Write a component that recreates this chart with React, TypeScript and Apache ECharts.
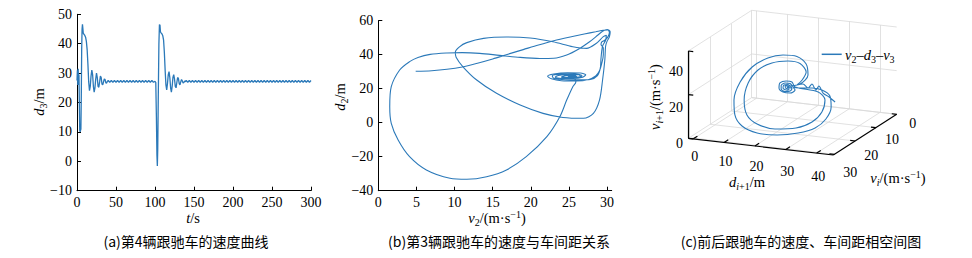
import React, { useEffect, useRef } from "react";
import * as echarts from "echarts";

const BLUE = "#2b79b9";
const SERIF = "serif";
const CJK = "Noto Sans CJK SC";

// ---------- Panel (a): d3 vs t ----------
const timeA = [0, 0.5, 1, 1.5, 2, 2.5, 3, 3.5, 4, 4.5, 5, 5.5, 6, 6.5, 7, 7.5, 8, 9, 10, 11, 12, 13, 14, 15, 16, 17, 18, 19, 20, 21, 22, 23, 24, 25, 26, 27, 28, 29, 30, 31, 32, 33, 34, 35, 36, 37, 38, 39,
  40, 42, 44, 46, 48, 50, 52, 54, 56, 58, 60, 62, 64, 66, 68, 70, 72, 74, 76, 78, 80, 82, 84, 86, 88, 90, 92, 94, 96, 98,
  100, 101, 101.8, 102.5, 103, 103.5, 104.2, 105, 105.7, 106.4, 107, 108, 109, 110, 111, 112, 113, 114, 115, 116, 117, 118, 119, 120, 121, 122, 123, 124, 125, 126, 127, 128, 129, 130, 131, 132, 133, 134, 135, 136, 137, 138, 139,
  140, 142, 144, 146, 148, 150, 152, 154, 156, 158, 160, 162, 164, 166, 168, 170, 172, 174, 176, 178, 180, 182, 184, 186, 188, 190, 192, 194, 196, 198, 200, 202, 204, 206, 208, 210, 212, 214, 216, 218, 220, 222, 224, 226, 228, 230, 232, 234, 236, 238, 240, 242, 244, 246, 248, 250, 252, 254, 256, 258, 260, 262, 264, 266, 268, 270, 272, 274, 276, 278, 280, 282, 284, 286, 288, 290, 292, 294, 296, 298, 300];
const d3A = [27.5, 31, 26, 31.5, 26.5, 29.5, 20, 10.5, 10, 10, 11, 22, 38, 45, 46.6, 45.2, 43.6, 43.2, 42.8, 42.2, 40.8, 38, 33, 27, 24, 25.5, 29, 31, 29.5, 25.5, 23.5, 25, 28, 30, 28.5, 25.5, 25.2, 27, 29, 28.5, 26.3, 26, 27, 28, 27.8, 26.7, 26.6, 27.2,
  27.5, 26.9, 27.5, 26.9, 27.5, 26.9, 27.5, 26.9, 27.5, 26.9, 27.5, 26.9, 27.5, 26.9, 27.5, 26.9, 27.5, 26.9, 27.5, 26.9, 27.5, 26.9, 27.5, 26.9, 27.5, 26.9, 27.5, 26.9, 27.5, 26.9,
  27.2, 26.8, 15, 2, -1.6, 4, 22, 40, 46.5, 46.3, 44, 43.6, 43.3, 42.7, 41.2, 37, 31, 26, 24.3, 26.5, 29.5, 30.5, 28.5, 25, 23.5, 25.5, 28.5, 29.5, 28, 25.5, 25, 26.8, 28.5, 28.2, 26.5, 26, 27, 27.8, 27.4, 26.6, 26.8, 27.3, 27.1,
  27.5, 26.9, 27.5, 26.9, 27.5, 26.9, 27.5, 26.9, 27.5, 26.9, 27.5, 26.9, 27.5, 26.9, 27.5, 26.9, 27.5, 26.9, 27.5, 26.9, 27.5, 26.9, 27.5, 26.9, 27.5, 26.9, 27.5, 26.9, 27.5, 26.9, 27.5, 26.9, 27.5, 26.9, 27.5, 26.9, 27.5, 26.9, 27.5, 26.9,
  27.5, 26.9, 27.5, 26.9, 27.5, 26.9, 27.5, 26.9, 27.5, 26.9, 27.5, 26.9, 27.5, 26.9, 27.5, 26.9, 27.5, 26.9, 27.5, 26.9, 27.5, 26.9, 27.5, 26.9, 27.5, 26.9, 27.5, 26.9, 27.5, 26.9, 27.5, 26.9, 27.5, 26.9, 27.5, 26.9, 27.5, 26.9, 27.5, 26.9, 27.5];
const xTicksA = [0, 50, 100, 150, 200, 250, 300];
const yTicksA = [-10, 0, 10, 20, 30, 40, 50];

// ---------- Panel (b): d2 vs v2 ----------
const v2B = [4.9, 7, 9, 11, 13, 15, 17, 19, 21, 23, 25, 27, 28.5, 29.5, 30.1, 30.3, 30.1, 29.7, 29.3, 29.2, 29.5, 29.5, 29.3, 29, 28.5, 27.5, 26, 24, 22.7, 22.2, 23, 24.8, 26.5, 27.2, 26.8, 25.5, 24, 23.2, 23.6, 25, 26.3, 26.5, 25.8, 24.6, 24.2, 24.8, 25.8, 26, 25.4, 24.9, 25.2, 25.6, 25.3, 25.8, 25.9, 25.5, 24.7, 23.8, 22.1, 19.4, 16.8, 14.2, 11.6, 9.4, 6.3, 4.1, 2.6, 1.7, 1.5, 1.7, 2.8, 4.1, 5.2, 6.8, 9, 11, 13.3, 15.9, 18.6, 21.2, 23, 24.7, 26.4, 27.7, 28.8, 29.4, 30, 30.4, 30.3, 30, 29.8, 29.7, 29.4, 29, 28.2, 26.9, 24.2, 21.6, 18.6, 15.5, 12.9, 11.1, 10.2, 10.1, 10.6, 11.6, 13.8, 16.8, 19.9, 22.9, 25.5, 27.3, 28.6, 29.5, 29.9, 29.8, 29.4, 29.2, 29.1, 28.7, 27.8, 26.5, 24.5, 23, 22.8, 24, 25.8, 26.7, 26.3, 25, 24, 24.5, 25.6, 25.8, 25.3];
const d2B = [30.3, 30.6, 31.4, 32.8, 35, 37.5, 40.3, 43, 45.7, 48.2, 50.3, 52.2, 53.5, 54.4, 54.5, 53, 50.5, 48.5, 47.5, 46, 44, 40, 35, 30.5, 27.5, 25.3, 24.5, 24.7, 25.8, 27.3, 28.6, 29.3, 29.2, 28.2, 26.8, 26, 26, 26.8, 27.8, 28.4, 28.2, 27.3, 26.6, 26.6, 27.2, 27.8, 27.7, 27.1, 26.8, 27, 27.4, 27.2, 27, 25.8, 24, 21.2, 13.3, 3.5, -8.2, -20, -27.8, -31.8, -33.3, -32.7, -27.8, -20, -10.2, -0.4, 9.4, 21.2, 31, 35.9, 38.4, 40.2, 41, 41.2, 40.8, 39.6, 38.4, 37.8, 37.9, 39.8, 43.7, 47.6, 51.6, 53.8, 54.8, 53.5, 50.5, 48, 45, 37, 25, 13.3, 5.5, 2.6, 3.1, 5.5, 10.4, 17.3, 25.1, 32.9, 38.5, 41.5, 44.5, 47.1, 49.6, 50.4, 49.8, 47.6, 44.7, 43.7, 46.7, 50.6, 51.5, 48.5, 45, 38, 32, 27.5, 25.4, 25.2, 25.3, 26.2, 27.6, 28.5, 28.6, 27.8, 26.6, 26.3, 26.8, 27.6, 27.6, 27, 26.9];
const xTicksB = [0, 5, 10, 15, 20, 25, 30];
const yTicksB = [-40, -20, 0, 20, 40, 60];

// ---------- Panel (c): v2 - d3 - v3 phase space ----------
const d3C = [28.8, 28.2, 27.6, 27.6, 27.3, 26.7, 26.1, 25.8, 25.2,
  31.8, 33.1, 31.1, 27.2, 22.0, 17.5, 14.3, 13.0, 13.9, 17.2, 23.0, 29.8, 35.0, 38.2, 39.2, 37.0,
  29.5, 28.5, 26.6, 24.6, 24.3, 25.6, 27.9, 29.5,
  28.8, 27.9, 26.3, 25.0, 25.0, 26.3, 27.9, 28.5,
  26.9,
  31.1, 33.7, 33.1, 30.1, 25.6, 20.7, 15.6, 11.7, 9.7, 10.0, 12.3, 17.2, 23.7, 30.5, 36.0, 39.5, 41.2, 40.8, 38.2, 35.0, 31.1,
  28.8, 27.9, 26.3, 25.0, 25.0, 26.3, 27.9, 28.5,
  28.2, 27.2, 25.9, 25.6, 26.6, 27.5,
  27.5, 26.9, 26.3, 26.6, 27.2, 26.9];
const v2C = [5, 7, 9, 11, 12, 13, 14, 16, 18,
  25.3, 25.3, 25.3, 25.3, 25.3, 25.3, 25.3, 25.3, 25.3, 25.3, 25.3, 25.3, 25.3, 25.3, 25.3, 25.3,
  25.3, 25.3, 25.3, 25.3, 25.3, 25.3, 25.3, 25.3,
  25.3, 25.3, 25.3, 25.3, 25.3, 25.3, 25.3, 25.3,
  25.3,
  25.3, 25.3, 25.3, 25.3, 25.3, 25.3, 25.3, 25.3, 25.3, 25.3, 25.3, 25.3, 25.3, 25.3, 25.3, 25.3, 25.3, 25.3, 25.3, 25.3, 25.3,
  25.3, 25.3, 25.3, 25.3, 25.3, 25.3, 25.3, 25.3,
  25.3, 25.3, 25.3, 25.3, 25.3, 25.3,
  25.3, 25.3, 25.3, 25.3, 25.3, 25.3];
const v3C = [5.98, 9.41, 12.36, 16.8, 15.52, 18.78, 17.46, 20.49, 21.14,
  28.97, 32.85, 36.43, 36.94, 35.18, 31.23, 24.75, 16.75, 10.03, 6.44, 5.10, 6.66, 10.25, 15.37, 21.02, 24.32,
  25.40, 27.53, 27.67, 26.44, 24.09, 22.47, 22.38, 24.02,
  25.29, 26.74, 26.70, 25.34, 23.74, 22.81, 23.30, 24.55,
  25.0,
  27.03, 31.58, 36.51, 39.48, 39.43, 37.26, 32.29, 24.78, 16.22, 9.40, 4.73, 2.31, 2.45, 4.48, 7.67, 12.37, 18.13, 23.12, 25.45, 25.83, 25.2,
  25.29, 26.74, 26.70, 25.34, 23.74, 22.81, 23.30, 24.55,
  25.19, 26.17, 25.73, 24.31, 23.55, 23.94,
  25.08, 25.66, 25.10, 24.23, 24.57, 25.0];
const dTicksC = [0, 10, 20, 30, 40];
const viTicksC = [0, 10, 20, 30];
const zTicksC = [0, 20, 40];
const dLimC = [-1.6, 45.4];
const viLimC = [0, 30.5];
const zLimC = [0, 40];

const captions = [
  "(a)第4辆跟驰车的速度曲线",
  "(b)第3辆跟驰车的速度与车间距关系",
  "(c)前后跟驰车的速度、车间距相空间图",
];

// ---------- layout (projection of the 3-D box) ----------
const BOX = { ox: 688.3, oy: 138.3, ed: [145, 16.7], ev: [63.4, -40.7], ez: [0, -87.3] };
function proj(d: number, vi: number, z: number): [number, number] {
  const a = (d - dLimC[0]) / (dLimC[1] - dLimC[0]);
  const b = (viLimC[1] - vi) / (viLimC[1] - viLimC[0]);
  const c = (z - zLimC[0]) / (zLimC[1] - zLimC[0]);
  return [
    BOX.ox + a * BOX.ed[0] + b * BOX.ev[0] + c * BOX.ez[0],
    BOX.oy + a * BOX.ed[1] + b * BOX.ev[1] + c * BOX.ez[1],
  ];
}

const fmt = (v: number) => String(v).replace("-", "\u2212");

const tok = (extra: any) => ({ fontFamily: SERIF, fill: "#000", color: "#000", ...extra });
const RICH: any = {
  i: tok({ fontStyle: "italic", fontSize: 14.5, lineHeight: 18 }),
  n: tok({ fontSize: 14.5, lineHeight: 18 }),
  s: tok({ fontStyle: "italic", fontSize: 10, lineHeight: 9, verticalAlign: "bottom" }),
  sn: tok({ fontSize: 10, lineHeight: 9, verticalAlign: "bottom" }),
  sup: tok({ fontSize: 10, lineHeight: 9, verticalAlign: "top" }),
};

function richText(x: number, y: number, text: string, rot = 0, align = "center") {
  return {
    type: "text", x, y, rotation: rot, silent: true, z: 20,
    style: { text, rich: RICH, fill: "#000", align, verticalAlign: "middle", textAlign: align, textVerticalAlign: "middle", fontFamily: SERIF, fontSize: 14 },
  };
}
function plainText(x: number, y: number, text: string, family: string, size: number, align = "center") {
  return {
    type: "text", x, y, silent: true, z: 20,
    style: { text, fill: "#000", font: `${size}px ${family}`, align, verticalAlign: "middle", textAlign: align, textVerticalAlign: "middle" },
  };
}

function buildOption() {
  const labelStyle = { color: "#000", fontSize: 14, fontFamily: SERIF, margin: 5, formatter: fmt };
  const axisBase = (extra: any) => ({
    type: "value",
    axisLine: { show: true, onZero: false, lineStyle: { color: "#000", width: 1 } },
    axisTick: { show: true, inside: true, length: 4, lineStyle: { color: "#000", width: 1 } },
    axisLabel: labelStyle,
    splitLine: { show: false },
    ...extra,
  });

  // 3-D box lines
  const [d0, d1] = dLimC, [vi0, vi1] = viLimC, [z0, z1] = zLimC;
  const gridSegs: any[] = [];
  dTicksC.forEach((d) => {
    gridSegs.push([proj(d, vi0, z0), proj(d, vi1, z0)]);
    gridSegs.push([proj(d, vi0, z0), proj(d, vi0, z1)]);
  });
  viTicksC.forEach((vi) => {
    gridSegs.push([proj(d0, vi, z0), proj(d1, vi, z0)]);
    gridSegs.push([proj(d0, vi, z0), proj(d0, vi, z1)]);
  });
  zTicksC.forEach((z) => {
    gridSegs.push([proj(d0, vi0, z), proj(d1, vi0, z)]);
    gridSegs.push([proj(d0, vi0, z), proj(d0, vi1, z)]);
  });
  const axisSegs: any[] = [
    [proj(d0, vi1, z0), proj(d1, vi1, z0)],
    [proj(d1, vi1, z0), proj(d1, vi0, z0)],
    [proj(d0, vi1, z0), proj(d0, vi1, z1)],
  ];
  dTicksC.forEach((d) => axisSegs.push([proj(d, vi1, z0), proj(d, vi1 - 2, z0)]));
  viTicksC.forEach((vi) => axisSegs.push([proj(d1, vi, z0), proj(d1 - 1.6, vi, z0)]));
  zTicksC.forEach((z) => axisSegs.push([proj(d0, vi1, z), proj(d0 + 1.6, vi1, z)]));

  const traj = d3C.map((d, i) => proj(d, v2C[i], v3C[i]));

  const graphics: any[] = [];
  // axis titles
  graphics.push(richText(193, 218, "{i|t}{n|/s}"));
  graphics.push(richText(39, 102, "{i|d}{sn|3}{n|/m}", Math.PI / 2));
  graphics.push(richText(497, 218, "{i|v}{sn|2}{n|/(m·s}{sup|\u22121}{n|)}"));
  graphics.push(richText(340, 97, "{i|d}{sn|2}{n|/m}", Math.PI / 2));
  graphics.push(richText(747, 182, "{i|d}{s|i}{sn|+1}{n|/m}"));
  graphics.push(richText(898, 178, "{i|v}{s|i}{n|/(m·s}{sup|\u22121}{n|)}"));
  graphics.push(richText(655, 97, "{i|v}{s|i}{sn|+1}{n|/(m·s}{sup|\u22121}{n|)}", Math.PI / 2));
  // 3-D tick labels
  dTicksC.forEach((d) => {
    const p = proj(d, vi1, z0);
    graphics.push(plainText(p[0] + 1.5, p[1] + 17.8 + 0.128 * d, fmt(d), SERIF, 14));
  });
  viTicksC.forEach((vi) => {
    const p = proj(d1, vi, z0);
    graphics.push(plainText(p[0] + 16, p[1] + 8.7 + 0.3 * vi, fmt(vi), SERIF, 14));
  });
  const zBase = proj(d0, vi1, z0)[1];
  zTicksC.forEach((z) => {
    const p = proj(d0, vi1, z);
    graphics.push(plainText(683, zBase + 5 + 0.82 * (p[1] - zBase), fmt(z), SERIF, 14, "right"));
  });
  // legend
  graphics.push({ type: "line", silent: true, z: 20, shape: { x1: 821.7, y1: 54.3, x2: 841.7, y2: 54.3 }, style: { stroke: BLUE, lineWidth: 1.5 } });
  graphics.push(richText(845, 55, "{i|v}{sn|2}{n|–}{i|d}{sn|3}{n|–}{i|v}{sn|3}", 0, "left"));
  // captions
  const capX = [186, 499, 801];
  captions.forEach((c, i) => graphics.push(plainText(capX[i], 241, c, CJK, 14)));

  return {
    animation: false,
    backgroundColor: "#fff",
    textStyle: { fontFamily: SERIF },
    grid: [
      { left: 77, top: 14.3, width: 234, height: 176.4 },
      { left: 378.3, top: 20.7, width: 233.4, height: 170 },
      { left: 0, top: 0, width: 972, height: 258 },
    ],
    xAxis: [
      axisBase({ gridIndex: 0, min: 0, max: 300, interval: 50 }),
      axisBase({
        gridIndex: 1, min: 0, max: 30.6, interval: 5,
        axisTick: { show: true, inside: true, length: 4, lineStyle: { color: "#000", width: 1 }, customValues: xTicksB },
        axisLabel: { ...labelStyle, customValues: xTicksB },
      }),
      { type: "value", gridIndex: 2, min: 0, max: 972, show: false },
    ],
    yAxis: [
      axisBase({ gridIndex: 0, min: -10, max: 50, interval: 10 }),
      axisBase({ gridIndex: 1, min: -40, max: 60, interval: 20 }),
      { type: "value", gridIndex: 2, min: 0, max: 258, inverse: true, show: false },
    ],
    series: [
      {
        type: "line", xAxisIndex: 0, yAxisIndex: 0, showSymbol: false, silent: true,
        data: timeA.map((t, i) => [t, d3A[i]]),
        lineStyle: { color: BLUE, width: 1.3 },
      },
      {
        type: "line", xAxisIndex: 1, yAxisIndex: 1, showSymbol: false, silent: true, smooth: 0.3,
        data: v2B.map((v, i) => [v, d2B[i]]),
        lineStyle: { color: BLUE, width: 1.1 },
      },
      {
        type: "lines", coordinateSystem: "cartesian2d", xAxisIndex: 2, yAxisIndex: 2, silent: true, z: 1,
        data: gridSegs.map((s) => ({ coords: s })),
        lineStyle: { color: "#d9d9d9", width: 0.8, opacity: 1 },
      },
      {
        type: "line", xAxisIndex: 2, yAxisIndex: 2, showSymbol: false, silent: true, smooth: 0.3, z: 2,
        data: traj,
        lineStyle: { color: BLUE, width: 1.1 },
      },
      {
        type: "lines", coordinateSystem: "cartesian2d", xAxisIndex: 2, yAxisIndex: 2, silent: true, z: 3,
        data: axisSegs.map((s) => ({ coords: s })),
        lineStyle: { color: "#000", width: 1.2, opacity: 1 },
      },
    ],
    graphic: graphics,
  };
}

export default function App() {
  const ref = useRef<HTMLDivElement>(null);
  useEffect(() => {
    document.body.style.margin = "0";
    if (!ref.current) return;
    const chart = echarts.init(ref.current, undefined, { renderer: "svg" });
    chart.setOption(buildOption() as any);
    return () => chart.dispose();
  }, []);
  return <div ref={ref} style={{ width: 972, height: 258 }} />;
}
